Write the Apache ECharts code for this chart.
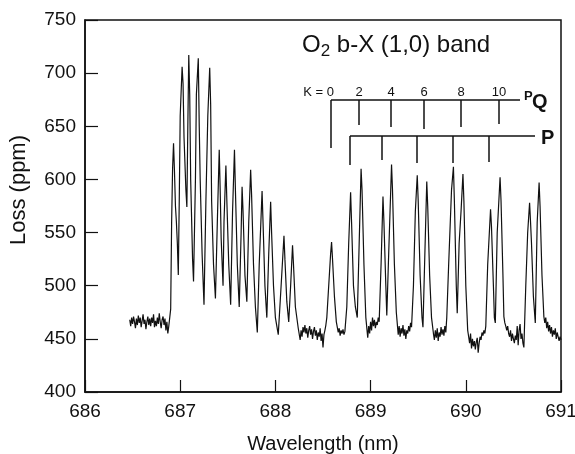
<!DOCTYPE html>
<html>
<head>
<meta charset="utf-8">
<script src="https://cdn.jsdelivr.net/npm/echarts@6/dist/echarts.min.js"></script>
<style>
  html, body { margin: 0; padding: 0; background: #fff; }
  #chart { width: 575px; height: 454px; }
</style>
</head>
<body>
<div id="chart"></div>
<script>
// wavelength (nm)
const wavelength = [
  686.47, 686.48, 686.49, 686.50, 686.51, 686.52, 686.53, 686.54, 686.55, 686.56,
  686.57, 686.58, 686.59, 686.60, 686.61, 686.62, 686.63, 686.64, 686.65, 686.66,
  686.67, 686.68, 686.69, 686.70, 686.71, 686.72, 686.73, 686.74, 686.75, 686.76,
  686.77, 686.78, 686.79, 686.80, 686.81, 686.82, 686.83, 686.84, 686.85, 686.86,
  686.87, 686.88, 686.89, 686.90,
  686.91, 686.92, 686.93, 686.94, 686.95, 686.96, 686.97, 686.98, 686.99, 687.00,
  687.02, 687.03, 687.04, 687.06, 687.07, 687.08, 687.09, 687.10, 687.11, 687.13,
  687.14, 687.16, 687.17, 687.19, 687.20, 687.21, 687.23, 687.25, 687.27, 687.29,
  687.31, 687.32, 687.33, 687.35, 687.37, 687.39, 687.41, 687.42, 687.43, 687.45,
  687.46, 687.48, 687.49, 687.51, 687.53, 687.55, 687.57, 687.58, 687.60, 687.62,
  687.64, 687.65, 687.66, 687.68, 687.70, 687.72, 687.74, 687.75, 687.77, 687.79,
  687.81, 687.83, 687.86, 687.87, 687.89, 687.91, 687.93, 687.95, 687.96, 687.98,
  688.00, 688.03, 688.06, 688.09, 688.10, 688.12, 688.14, 688.16, 688.18, 688.19,
  688.21, 688.24, 688.26,
  688.27, 688.28, 688.29, 688.30, 688.31, 688.32, 688.33, 688.34, 688.35, 688.36,
  688.37, 688.38, 688.39, 688.40, 688.41, 688.42, 688.43, 688.44, 688.45, 688.46,
  688.47, 688.48, 688.49, 688.50, 688.51, 688.52, 688.53, 688.54,
  688.56, 688.58, 688.59, 688.60, 688.62, 688.64, 688.66,
  688.67, 688.68, 688.69, 688.70, 688.71, 688.72, 688.73,
  688.75, 688.77, 688.79, 688.80, 688.82, 688.84, 688.86, 688.88, 688.90, 688.91,
  688.93, 688.95, 688.97,
  688.98, 688.99, 689.00, 689.01, 689.02, 689.03, 689.04, 689.05, 689.06, 689.07,
  689.08, 689.09,
  689.11, 689.13, 689.14, 689.16, 689.17, 689.19, 689.22, 689.23, 689.25, 689.27,
  689.29,
  689.30, 689.31, 689.32, 689.33, 689.34, 689.35, 689.36, 689.37, 689.38, 689.39,
  689.40, 689.41, 689.42, 689.43,
  689.45, 689.47, 689.49, 689.50, 689.52, 689.54, 689.55, 689.57, 689.59, 689.60,
  689.62, 689.64,
  689.66, 689.67, 689.68, 689.69, 689.70, 689.71, 689.72, 689.73, 689.74, 689.75,
  689.76, 689.77, 689.78, 689.79, 689.80,
  689.82, 689.85, 689.87, 689.88, 689.90, 689.91, 689.93, 689.95, 689.97, 689.98,
  690.00, 690.02,
  690.03, 690.04, 690.05, 690.06, 690.07, 690.08, 690.09, 690.10, 690.11, 690.12,
  690.13, 690.14, 690.15, 690.16, 690.17, 690.18, 690.19, 690.20, 690.21,
  690.23, 690.26, 690.27, 690.29, 690.30, 690.31, 690.33, 690.36, 690.37, 690.39,
  690.40,
  690.41, 690.42, 690.43, 690.44, 690.45, 690.46, 690.47, 690.48, 690.49, 690.50,
  690.51, 690.52, 690.53, 690.54, 690.55, 690.56, 690.57, 690.58, 690.59, 690.60,
  690.61,
  690.63, 690.65, 690.67, 690.68, 690.69, 690.71, 690.73, 690.75, 690.77, 690.78,
  690.80, 690.82,
  690.83, 690.84, 690.85, 690.86, 690.87, 690.88, 690.89, 690.90, 690.91, 690.92,
  690.93, 690.94, 690.95, 690.96, 690.97, 690.98, 690.99, 691.00
]

// loss (ppm) at each wavelength above
const loss = [
  468, 462, 470, 464, 471, 466, 460, 469, 463, 472,
  465, 470, 461, 467, 473, 464, 468, 459, 466, 471,
  463, 469, 462, 470, 465, 473, 461, 467, 462, 470,
  464, 474, 466, 460, 468, 471, 463, 469, 458, 466,
  455, 462, 470, 478,
  560, 610, 634, 607, 575, 560, 540, 510, 580, 660,
  706, 690, 640, 590, 574, 650, 717, 680, 600, 525,
  504, 600, 680, 714, 650, 600, 530, 482, 580, 660,
  705, 670, 580, 520, 488, 560, 628, 590, 545, 500,
  560, 613, 580, 520, 482, 570, 628, 590, 520, 480,
  550, 593, 570, 510, 485, 560, 609, 585, 520, 480,
  456, 520, 589, 560, 500, 470, 530, 579, 550, 500,
  470, 454, 500, 547, 525, 485, 466, 500, 538, 520,
  480, 460, 449,
  458, 452, 461, 456, 463, 455, 460, 451, 458, 462,
  454, 459, 450, 457, 461, 453, 458, 449, 456, 452,
  460, 448, 455, 442, 454, 458, 463, 470,
  500, 530, 541, 525, 490, 466, 456,
  460, 453, 458, 455, 459, 454, 457,
  480, 540, 588, 560, 500, 480, 470, 540, 610, 590,
  520, 470, 451,
  462, 455, 466, 458, 470, 462, 468, 460, 466, 463,
  470, 466,
  520, 584, 560, 500, 472, 530, 614, 590, 520, 475,
  454,
  462, 452, 460, 455, 463, 453, 459, 450, 458, 455,
  462, 457, 465, 461,
  500, 570, 604, 580, 510, 470, 461, 530, 598, 575,
  510, 470,
  455, 449, 458, 451, 460, 448, 456, 452, 461, 454,
  459, 453, 462, 456, 470,
  520, 590, 612, 580, 500, 474, 540, 570, 605, 580,
  500, 458,
  452, 446, 455, 441, 450, 443, 448, 440, 447, 451,
  437, 446, 452, 449, 456, 453, 458, 455, 462,
  520, 572, 555, 500, 470, 465, 550, 602, 580, 510,
  471,
  465, 462, 458, 462, 455, 452, 458, 448, 455, 450,
  446, 453, 449, 462, 444, 458, 464, 450, 455, 446,
  442,
  500, 550, 578, 560, 540, 490, 465, 560, 597, 575,
  510, 471,
  465, 470, 460, 466, 457, 463, 455, 461, 452, 458,
  454, 460, 450, 456, 452, 448, 452, 449
]

const xTicks = [686, 687, 688, 689, 690, 691]
const yTicks = [400, 450, 500, 550, 600, 650, 700, 750]

// rotational lines of the two branches, K labels over the PQ ladder
const kLabels = ['2', '4', '6', '8', '10']

const seriesData = wavelength.map((w, i) => [w, loss[i]])

const chart = echarts.init(document.getElementById('chart'), null, { renderer: 'canvas' })

const font = '"Liberation Sans", Arial, sans-serif'

// ladder geometry (pixels)
const pqY = 100
const pqTicks = [359, 391, 424, 461, 499]
const pqEnds = [125, 127, 129, 127, 124]
const pY = 136
const pTicks = [350, 382, 417, 453, 489]
const pEnds = [165, 160, 163, 163, 162]

const lineStyle = { stroke: '#111', lineWidth: 1.5 }
const graphics = []

graphics.push({ type: 'line', shape: { x1: 331, y1: pqY, x2: 520, y2: pqY }, style: lineStyle })
graphics.push({ type: 'line', shape: { x1: 331, y1: pqY, x2: 331, y2: 148 }, style: lineStyle })
pqTicks.forEach((x, i) => {
  graphics.push({ type: 'line', shape: { x1: x, y1: pqY, x2: x, y2: pqEnds[i] }, style: lineStyle })
  graphics.push({
    type: 'text', x: x, y: 92,
    style: { text: kLabels[i], font: '13px ' + font, fill: '#111', align: 'center', verticalAlign: 'middle' }
  })
})
graphics.push({ type: 'line', shape: { x1: 350, y1: pY, x2: 535, y2: pY }, style: lineStyle })
pTicks.forEach((x, i) => {
  graphics.push({ type: 'line', shape: { x1: x, y1: pY, x2: x, y2: pEnds[i] }, style: lineStyle })
})
graphics.push({
  type: 'text', x: 334, y: 92,
  style: { text: 'K = 0', font: '13px ' + font, fill: '#111', align: 'right', verticalAlign: 'middle' }
})
graphics.push({
  type: 'text', x: 524, y: 96,
  style: { text: 'P', font: 'bold 13px ' + font, fill: '#111', align: 'left', verticalAlign: 'middle' }
})
graphics.push({
  type: 'text', x: 532, y: 102,
  style: { text: 'Q', font: 'bold 20px ' + font, fill: '#111', align: 'left', verticalAlign: 'middle' }
})
graphics.push({
  type: 'text', x: 541, y: 138,
  style: { text: 'P', font: 'bold 20px ' + font, fill: '#111', align: 'left', verticalAlign: 'middle' }
})
graphics.push({
  type: 'text', x: 302, y: 45,
  style: {
    text: '{a|O}{s|2}{a| b-X (1,0) band}',
    align: 'left', verticalAlign: 'middle',
    rich: {
      a: { font: '24px ' + font, fill: '#111' },
      s: { font: '17px ' + font, fill: '#111', padding: [12, 0, 0, 0] }
    }
  }
})
graphics.push({
  type: 'text', x: 19, y: 190, rotation: Math.PI / 2,
  style: { text: 'Loss (ppm)', font: '22px ' + font, fill: '#111', align: 'center', verticalAlign: 'middle' }
})

const option = {
  animation: false,
  backgroundColor: '#fff',
  grid: {
    left: 85, right: 14, top: 20, bottom: 62,
    show: true, borderColor: '#111', borderWidth: 1.5,
    outerBoundsMode: 'none'
  },
  xAxis: {
    type: 'value',
    min: xTicks[0], max: xTicks[xTicks.length - 1], interval: 1,
    name: 'Wavelength (nm)', nameLocation: 'middle', nameGap: 42,
    nameTextStyle: { fontFamily: font, fontSize: 20, color: '#111' },
    axisLine: { show: true, lineStyle: { color: '#111', width: 1.5 } },
    axisTick: { show: true, inside: true, length: 12, lineStyle: { color: '#111', width: 1.2 } },
    axisLabel: { fontFamily: font, fontSize: 19, color: '#111', margin: 10, showMinLabel: true, showMaxLabel: true },
    splitLine: { show: false }
  },
  yAxis: {
    type: 'value',
    min: yTicks[0], max: yTicks[yTicks.length - 1], interval: 50,
    axisLine: { show: true, lineStyle: { color: '#111', width: 1.5 } },
    axisTick: { show: true, inside: true, length: 13, lineStyle: { color: '#111', width: 1.2 } },
    axisLabel: { fontFamily: font, fontSize: 19, color: '#111', margin: 9 },
    splitLine: { show: false }
  },
  series: [
    {
      type: 'line',
      data: seriesData,
      showSymbol: false,
      symbol: 'none',
      lineStyle: { color: '#111', width: 1.2 }
    }
  ],
  graphic: graphics
}

chart.setOption(option)
</script>
</body>
</html>
